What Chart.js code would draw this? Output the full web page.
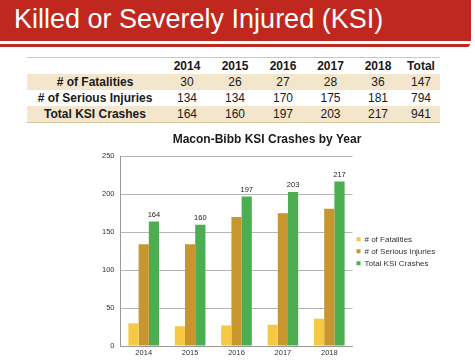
<!DOCTYPE html>
<html>
<head>
<meta charset="utf-8">
<script src="https://cdn.jsdelivr.net/npm/chart.js@4"></script>
<style>
  html, body { margin: 0; padding: 0; background: #fff; }
  body { width: 475px; height: 364px; position: relative; overflow: hidden; font-family: "Liberation Sans", Arial, sans-serif; }
  .banner { position: absolute; left: 0; top: 0; width: 471px; height: 41px; background: #c0281f; }
  .banner h1 { margin: 0; position: absolute; left: 14px; top: 3px; font-size: 27px; font-weight: normal; color: #fff; line-height: 32px; }
  .banner-under { position: absolute; left: 0; top: 44px; width: 470px; height: 3px; background: #c0281f; border-bottom-right-radius: 3px; }
  table.ksi { position: absolute; left: 27px; top: 57px; border-collapse: collapse; font-size: 12px; color: #1a1a1a; border-top: 1px solid #d8c79e; border-bottom: 1px solid #d8c79e; }
  table.ksi td, table.ksi th { padding: 0; height: 16px; text-align: center; }
  table.ksi th { font-weight: bold; }
  table.ksi tr.tan td, table.ksi tr.tan th { background: #f3e6cd; }
  #wrap { position: absolute; left: 60px; top: 128px; width: 415px; height: 236px; }
</style>
</head>
<body>
<div class="banner"><h1>Killed or Severely Injured (KSI)</h1></div>
<div class="banner-under"></div>
<table class="ksi" id="ksiTable"></table>
<div id="wrap"><canvas id="chart"></canvas></div>
<script>
// Data
const years = ['2014', '2015', '2016', '2017', '2018'];
const fatalities = [30, 26, 27, 28, 36];
const seriousInjuries = [134, 134, 170, 175, 181];
const totalCrashes = [164, 160, 197, 203, 217];
const tableTotals = [147, 794, 941];
const yTicks = [0, 50, 100, 150, 200, 250];

// Build the table
const colWidths = [136, 48, 48, 48, 47, 48, 38];
const rows = [
    { label: '# of Fatalities', values: fatalities, total: tableTotals[0], cls: 'tan' },
    { label: '# of Serious Injuries', values: seriousInjuries, total: tableTotals[1], cls: '' },
    { label: 'Total KSI Crashes', values: totalCrashes, total: tableTotals[2], cls: 'tan' }
];
const table = document.getElementById('ksiTable');
let html = '<colgroup>' + colWidths.map(w => `<col style="width:${w}px">`).join('') + '</colgroup>';
html += '<tr><th></th>' + years.map(y => `<th>${y}</th>`).join('') + '<th>Total</th></tr>';
rows.forEach(r => {
    html += `<tr class="${r.cls}"><th>${r.label}</th>` +
        r.values.map(v => `<td>${v}</td>`).join('') +
        `<td>${r.total}</td></tr>`;
});
table.innerHTML = html;

// Value labels above the green bars
const totalLabels = {
    id: 'totalLabels',
    afterDatasetsDraw(chart) {
        const ctx = chart.ctx;
        const meta = chart.getDatasetMeta(2);
        ctx.save();
        ctx.font = '7.5px "Liberation Sans", Arial, sans-serif';
        ctx.fillStyle = '#222';
        ctx.textAlign = 'center';
        ctx.textBaseline = 'bottom';
        meta.data.forEach((bar, i) => {
            ctx.fillText(totalCrashes[i], bar.x, bar.y - 3);
        });
        ctx.restore();
    }
};

const ctx = document.getElementById('chart').getContext('2d');
new Chart(ctx, {
    type: 'bar',
    data: {
        labels: years,
        datasets: [
            { label: '# of Fatalities', data: fatalities, backgroundColor: '#f6c844' },
            { label: '# of Serious Injuries', data: seriousInjuries, backgroundColor: '#c8952f' },
            { label: 'Total KSI Crashes', data: totalCrashes, backgroundColor: '#4cae50' }
        ]
    },
    options: {
        responsive: true,
        maintainAspectRatio: false,
        animation: false,
        datasets: {
            bar: { categoryPercentage: 0.66, barPercentage: 1.0 }
        },
        layout: { padding: { left: 36, right: 37, top: 0, bottom: 5 } },
        plugins: {
            title: {
                display: true,
                text: 'Macon-Bibb KSI Crashes by Year',
                color: '#1a1a1a',
                font: { family: '"Liberation Sans", Arial, sans-serif', size: 12, weight: 'bold' },
                padding: { top: 4, bottom: 10 }
            },
            legend: {
                position: 'right',
                title: { display: true, text: ' ', font: { size: 8 }, padding: 3 },
                labels: {
                    boxWidth: 4,
                    boxHeight: 4,
                    padding: 4,
                    color: '#333',
                    font: { family: '"Liberation Sans", Arial, sans-serif', size: 8 }
                }
            },
            tooltip: { enabled: false }
        },
        scales: {
            x: {
                grid: { display: false, drawTicks: false },
                border: { color: '#999' },
                ticks: { color: '#333', font: { size: 7.5, family: '"Liberation Sans", Arial, sans-serif' }, padding: 2 }
            },
            y: {
                min: 0,
                max: 250,
                afterBuildTicks: axis => { axis.ticks = yTicks.map(v => ({ value: v })); },
                grid: { color: '#b5b5b5', drawTicks: false },
                border: { color: '#999' },
                ticks: { color: '#333', font: { size: 7.5, family: '"Liberation Sans", Arial, sans-serif' }, padding: 6 }
            }
        }
    },
    plugins: [totalLabels]
});
</script>
</body>
</html>
